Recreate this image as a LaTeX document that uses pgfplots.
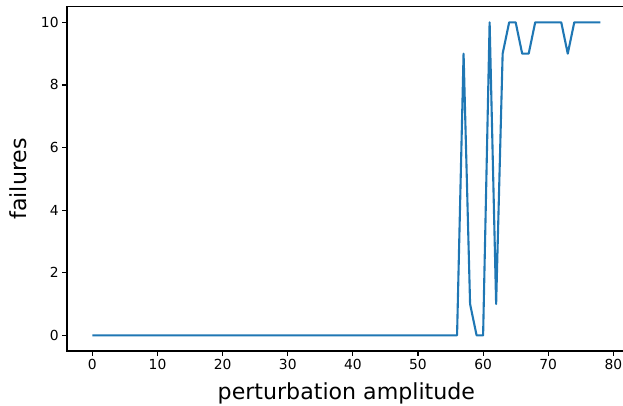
\documentclass[border=0pt]{standalone}
\usepackage{fontspec}
\setmainfont{DejaVu Sans}
\usepackage{pgfplots}
\pgfplotsset{compat=1.18}
\definecolor{mplblue}{HTML}{1F77B4}

\begin{document}
\begin{tikzpicture}[x=1bp,y=1bp]
  \begin{axis}[
     at={(67bp,54bp)}, anchor=south west,
     scale only axis, width=558.7bp, height=344.3bp,
     xmin=-3.9, xmax=81.9, ymin=-0.5, ymax=10.5,
     xtick={0,10,...,80}, ytick={0,2,...,10},
     tick align=outside, major tick length=4.9bp,
     tick style={black, line width=1.1bp},
     xtick pos=bottom, ytick pos=left,
     axis line style={line width=1.1bp},
     /pgf/number format/assume math mode=true,
     tick label style={font=\fontsize{13.9}{16}\selectfont},
     label style={font=\fontsize{22.2}{25}\selectfont},
     xlabel={perturbation amplitude},
     ylabel={failures},
     xlabel style={at={(axis description cs:0.5,-0.1394)}, anchor=base},
     ylabel style={at={(axis description cs:-0.0718,0.5)}, anchor=base},
  ]
    \addplot [color=mplblue, line width=2.1bp, line join=round] coordinates {
      (0,0) (1,0) (2,0) (3,0) (4,0) (5,0) (6,0) (7,0) (8,0) (9,0)
      (10,0) (11,0) (12,0) (13,0) (14,0) (15,0) (16,0) (17,0) (18,0) (19,0)
      (20,0) (21,0) (22,0) (23,0) (24,0) (25,0) (26,0) (27,0) (28,0) (29,0)
      (30,0) (31,0) (32,0) (33,0) (34,0) (35,0) (36,0) (37,0) (38,0) (39,0)
      (40,0) (41,0) (42,0) (43,0) (44,0) (45,0) (46,0) (47,0) (48,0) (49,0)
      (50,0) (51,0) (52,0) (53,0) (54,0) (55,0) (56,0) (57,9) (58,1) (59,0)
      (60,0) (61,10) (62,1) (63,9) (64,10) (65,10) (66,9) (67,9) (68,10) (69,10)
      (70,10) (71,10) (72,10) (73,9) (74,10) (75,10) (76,10) (77,10) (78,10)
    };
  \end{axis}
  \pgfresetboundingbox
  \useasboundingbox (0,0) rectangle (623,405);
\end{tikzpicture}
\end{document}
